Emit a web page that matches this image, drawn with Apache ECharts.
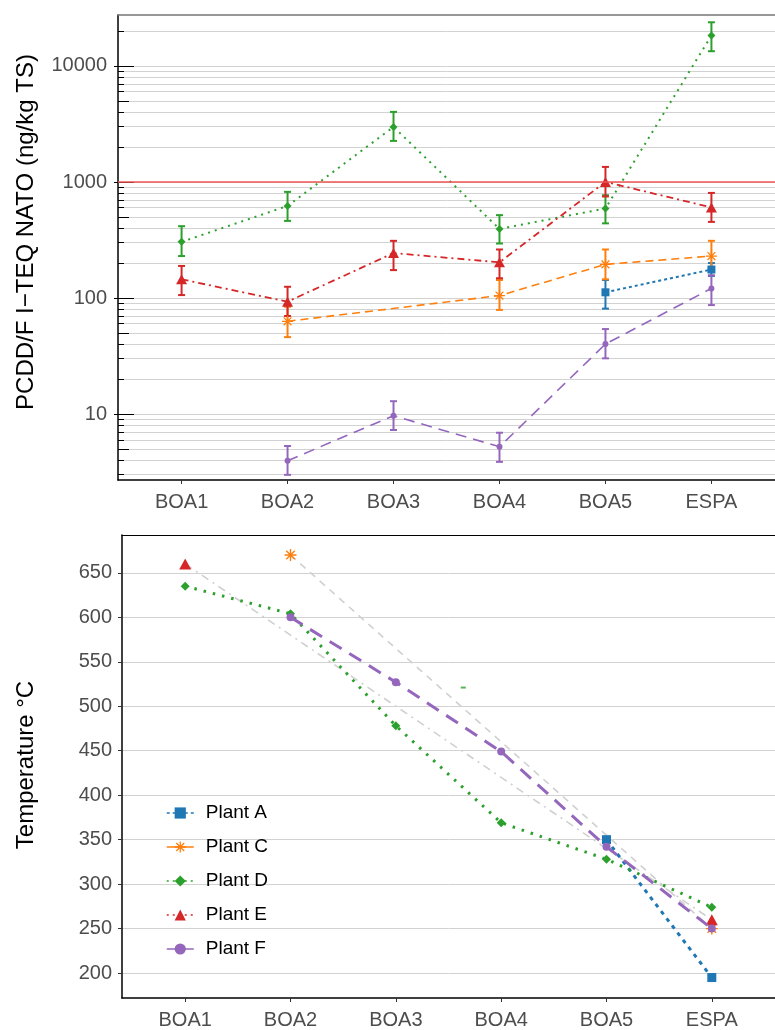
<!DOCTYPE html>
<html><head><meta charset="utf-8">
<script src="https://cdn.jsdelivr.net/npm/echarts@6/dist/echarts.min.js"></script>
<style>html,body{margin:0;padding:0;background:#fff}#c{width:775px;height:1030px}</style>
</head><body><div id="c"></div>
<script>
// ---------------- DATA ----------------
const categories = ['BOA1','BOA2','BOA3','BOA4','BOA5','ESPA'];
const plants = ['Plant A','Plant C','Plant D','Plant E','Plant F'];

// Top panel: PCDD/F I-TEQ NATO (ng/kg TS), null = not measured
const teqA    = [null, null, null, null, 112, 176];
const teqA_lo = [null, null, null, null,  81, 155];
const teqA_hi = [null, null, null, null, 143, 200];

const teqC    = [null,  63, null, 105, 195, 230];
const teqC_lo = [null,  46, null,  79, 145, 180];
const teqC_hi = [null,  84, null, 143, 262, 311];

const teqD    = [305, 622, 2985, 394, 591, 18300];
const teqD_lo = [230, 462, 2260, 295, 440, 13400];
const teqD_hi = [416, 822, 4020, 518, 769, 23800];

const teqE    = [145,  93, 244, 203, 1002, 603];
const teqE_lo = [106,  70, 174, 148,  750, 453];
const teqE_hi = [189, 125, 311, 262, 1349, 805];

const teqF    = [null, 3.96, 9.67, 5.22, 40.1, 121];
const teqF_lo = [null, 2.99, 7.28, 3.87, 30.2, 86.9];
const teqF_hi = [null, 5.30, 12.9, 6.90, 54.0, 157];

const limitValue = 1000;

// Top panel axis ticks
const teqMajorTicks = [10, 100, 1000, 10000];
const teqMidTicks = [5, 50, 500, 5000];
const teqAllTicks = [3,4,5,6,7,8,9,10,20,30,40,50,60,70,80,90,100,200,300,400,500,600,700,800,900,1000,2000,3000,4000,5000,6000,7000,8000,9000,10000,20000];

// Bottom panel: Temperature (°C)
const tempA = [null, null, null, null, 350, 195];
const tempC = [null, 670, null, null, null, 250];
const tempD = [635, 604, 478, 369, 328, 274];
const tempE = [660, null, null, null, null, 260];
const tempF = [null, 600, 527, 449, 342, 250];
const tempStray = [[2.64, 521]];
const tempTicks = [200, 250, 300, 350, 400, 450, 500, 550, 600, 650];

const catTicks = [0, 1, 2, 3, 4, 5];

// ---------------- STYLE ----------------
const FONT = "'Liberation Sans', Arial, Helvetica, sans-serif";
const colors = {'Plant A':'#1f77b4','Plant C':'#ff7f0e','Plant D':'#2ca02c','Plant E':'#d62728','Plant F':'#9467bd'};
const GRID_C = '#d2d2d2';
const LABEL_C = '#4d4d4d';

function asteriskPath(){
  const L = 10, w = 1.15; let d = '';
  for (let k = 0; k < 4; k++) {
    const a = k*Math.PI/4, c = Math.cos(a), s = Math.sin(a);
    const pts = [[-L,-w],[L,-w],[L,w],[-L,w]].map(([u,v]) => [(u*c - v*s).toFixed(3), (u*s + v*c).toFixed(3)]);
    d += 'M' + pts.map(p => p.join(' ')).join('L') + 'Z';
  }
  return 'path://' + d;
}
const ASTER = asteriskPath();

const symTop = {
  'Plant A': ['rect', 8], 'Plant C': [ASTER, 11], 'Plant D': ['diamond', 8],
  'Plant E': ['triangle', [11,10]], 'Plant F': ['circle', 6]
};
const symBot = {
  'Plant A': ['rect', 9], 'Plant C': [ASTER, 12], 'Plant D': ['diamond', 9],
  'Plant E': ['triangle', [12,11]], 'Plant F': ['circle', 8]
};
const lineTop = {
  'Plant A': {type:[3,3], width:2},
  'Plant C': {type:[8,5], width:1.6},
  'Plant D': {type:[2,5], width:2},
  'Plant E': {type:[7,4,2,4], width:1.8},
  'Plant F': {type:[11,7], width:1.6}
};
const lineBot = {
  'Plant A': {type:[4,5], width:3, color: colors['Plant A']},
  'Plant C': {type:[7,6], width:1.6, color: '#d0d0d0'},
  'Plant D': {type:[2.5,7], width:3, color: colors['Plant D']},
  'Plant E': {type:[8,5,2,5], width:1.6, color: '#d0d0d0'},
  'Plant F': {type:[14,9], width:3, color: colors['Plant F']}
};

const teqData = {'Plant A':[teqA,teqA_lo,teqA_hi],'Plant C':[teqC,teqC_lo,teqC_hi],'Plant D':[teqD,teqD_lo,teqD_hi],'Plant E':[teqE,teqE_lo,teqE_hi],'Plant F':[teqF,teqF_lo,teqF_hi]};
const tempData = {'Plant A':tempA,'Plant C':tempC,'Plant D':tempD,'Plant E':tempE,'Plant F':tempF};

function pts(arr){ return arr.map((v,i) => [i, v]).filter(d => d[1] != null); }

const series = [];
// bottom panel lines first (they define the legend icons)
plants.forEach(p => {
  series.push({
    type:'line', name:p, xAxisIndex:2, yAxisIndex:4,
    data: pts(tempData[p]),
    symbol: symBot[p][0], symbolSize: symBot[p][1],
    itemStyle:{color: colors[p]},
    lineStyle: lineBot[p],
    z: p === 'Plant C' || p === 'Plant E' ? 2 : 3
  });
});
series.push({type:'scatter', xAxisIndex:2, yAxisIndex:4, data: tempStray, symbol:'rect', symbolSize:[5,2], itemStyle:{color: colors['Plant D']}, silent:true});

// threshold line
series.push({type:'line', xAxisIndex:0, yAxisIndex:0, data:[], markLine:{silent:true, symbol:'none', label:{show:false},
  data:[{yAxis: limitValue}], lineStyle:{color:'#ef5555', width:1.5, type:'solid'}}, z:1});

plants.forEach(p => {
  const [v, lo, hi] = teqData[p];
  series.push({
    type:'custom', name:p+' err', xAxisIndex:0, yAxisIndex:0,
    data: v.map((val,i) => [i, lo[i], hi[i]]).filter(d => d[1] != null),
    encode:{x:0, y:[1,2]},
    renderItem: function(params, api){
      const x = api.value(0);
      const a = api.coord([x, api.value(1)]), b = api.coord([x, api.value(2)]);
      const cw = 3.5, st = {stroke: colors[p], lineWidth: 2};
      return {type:'group', children:[
        {type:'line', shape:{x1:a[0], y1:a[1], x2:b[0], y2:b[1]}, style:st},
        {type:'line', shape:{x1:a[0]-cw, y1:a[1], x2:a[0]+cw, y2:a[1]}, style:st},
        {type:'line', shape:{x1:b[0]-cw, y1:b[1], x2:b[0]+cw, y2:b[1]}, style:st}
      ]};
    },
    z: 3, silent:true
  });
  series.push({
    type:'line', name:p, xAxisIndex:0, yAxisIndex:0,
    data: pts(v),
    symbol: symTop[p][0], symbolSize: symTop[p][1],
    itemStyle:{color: colors[p]},
    lineStyle: Object.assign({color: colors[p]}, lineTop[p]),
    z: 4
  });
});

const catLabelFmt = v => categories[Math.round(v)];
const logMin = 2.7, logMax = 27500;

function logAxis(extra){
  return Object.assign({type:'log', logBase:10, gridIndex:0, min:logMin, max:logMax, position:'left',
    axisLine:{show:false, onZero:false}, axisLabel:{show:false}, splitLine:{show:false}, minorTick:{show:false}}, extra);
}

const option = {
  animation:false,
  textStyle:{fontFamily: FONT},
  grid:[
    {left:118, top:15, height:465, right:-10},
    {left:122, top:535, height:465, right:-13.5}
  ],
  xAxis:[
    {type:'value', gridIndex:0, min:-0.6, max:5.6, position:'bottom',
      axisLine:{show:true, onZero:false, lineStyle:{color:'#000', width:1.5}},
      axisTick:{show:true, length:4, customValues: catTicks, lineStyle:{color:'#333'}},
      axisLabel:{show:true, customValues: catTicks, formatter: catLabelFmt, fontSize:20, color:LABEL_C, margin:12, fontFamily:FONT},
      splitLine:{show:false}},
    {type:'value', gridIndex:0, min:-0.6, max:5.6, position:'top',
      axisLine:{show:true, onZero:false, lineStyle:{color:'#777', width:1.6}},
      axisTick:{show:false}, axisLabel:{show:false}, splitLine:{show:false}},
    {type:'value', gridIndex:1, min:-0.6, max:5.6, position:'bottom',
      axisLine:{show:true, onZero:false, lineStyle:{color:'#000', width:1.5}},
      axisTick:{show:true, length:4, customValues: catTicks, lineStyle:{color:'#333'}},
      axisLabel:{show:true, customValues: catTicks, formatter: catLabelFmt, fontSize:20, color:LABEL_C, margin:12, fontFamily:FONT},
      splitLine:{show:false}},
    {type:'value', gridIndex:1, min:-0.6, max:5.6, position:'top',
      axisLine:{show:true, onZero:false, lineStyle:{color:'#000', width:1.2}},
      axisTick:{show:false}, axisLabel:{show:false}, splitLine:{show:false}}
  ],
  yAxis:[
    logAxis({axisLine:{show:true, onZero:false, lineStyle:{color:'#000', width:1.5}},
      axisTick:{show:true, inside:true, length:6, customValues: teqAllTicks, lineStyle:{color:'#000', width:1}},
      splitLine:{show:true, lineStyle:{color:GRID_C, width:1}}}),
    logAxis({axisTick:{show:true, inside:true, length:11, customValues: teqMidTicks, lineStyle:{color:'#000', width:1}}}),
    logAxis({axisTick:{show:true, inside:true, length:16, customValues: teqMajorTicks, lineStyle:{color:'#000', width:1}}}),
    logAxis({axisTick:{show:true, inside:false, length:4, customValues: teqMajorTicks, lineStyle:{color:'#000', width:1}},
      axisLabel:{show:true, customValues: teqMajorTicks, formatter: v => String(Math.round(v)), fontSize:20, color:LABEL_C, margin:11, fontFamily:FONT}}),
    {type:'value', gridIndex:1, min:172, max:692.5, position:'left',
      axisLine:{show:true, onZero:false, lineStyle:{color:'#000', width:1.5}},
      axisTick:{show:true, length:4, customValues: tempTicks, lineStyle:{color:'#333'}},
      axisLabel:{show:true, customValues: tempTicks, fontSize:20, color:LABEL_C, margin:10, fontFamily:FONT},
      splitLine:{show:true, lineStyle:{color:GRID_C, width:1}}}
  ],
  legend:{
    orient:'vertical', left:161, top:798, itemWidth:27, itemHeight:14, itemGap:14,
    textStyle:{fontSize:19, color:'#000', fontFamily:FONT, lineHeight:20, padding:[0,0,0,7]},
    data:[
      {name:'Plant A', lineStyle:{color:colors['Plant A'], type:[3,3], width:1.5}},
      {name:'Plant C', lineStyle:{color:colors['Plant C'], type:'solid', width:1.5}},
      {name:'Plant D', lineStyle:{color:colors['Plant D'], type:[2,4], width:1.5}},
      {name:'Plant E', lineStyle:{color:colors['Plant E'], type:[2,4], width:1.5}},
      {name:'Plant F', lineStyle:{color:colors['Plant F'], type:'solid', width:1.5}}
    ]
  },
  graphic:[
    {type:'text', x:38, y:232, rotation:Math.PI/2, silent:true,
      style:{text:'PCDD/F I\u2212TEQ NATO (ng/kg TS)', fontSize:24, fill:'#000', align:'center', verticalAlign:'bottom', fontFamily:FONT}},
    {type:'text', x:38, y:765, rotation:Math.PI/2, silent:true,
      style:{text:'Temperature \u00b0C', fontSize:24, fill:'#000', align:'center', verticalAlign:'bottom', fontFamily:FONT}}
  ],
  series: series
};

const chart = echarts.init(document.getElementById('c'), null, {renderer:'canvas'});
chart.setOption(option);
</script>
</body></html>
